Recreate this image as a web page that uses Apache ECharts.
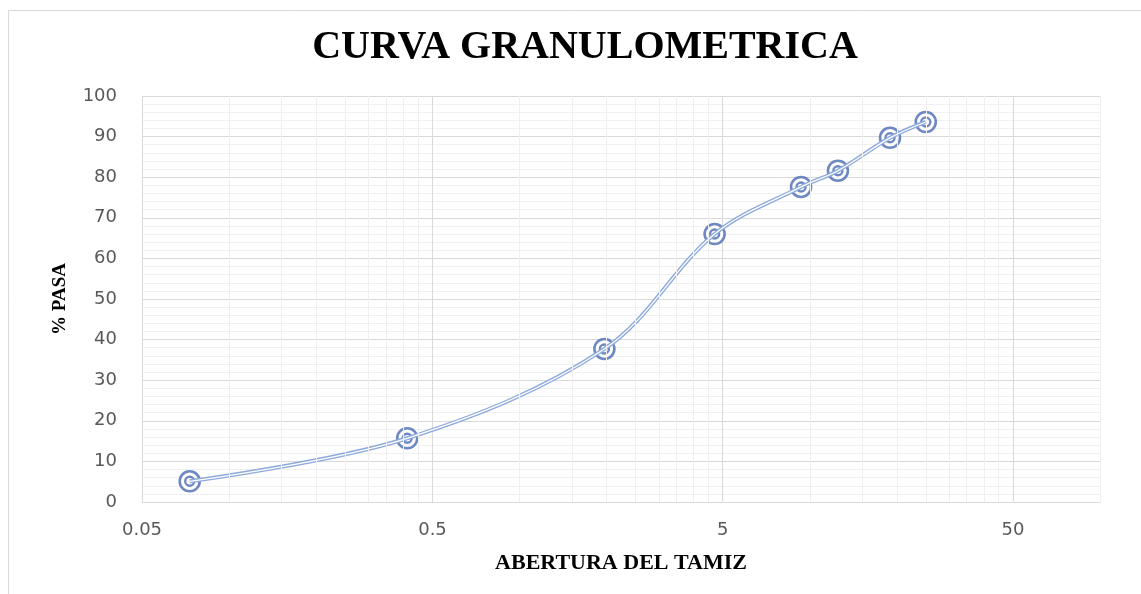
<!DOCTYPE html>
<html>
<head>
<meta charset="utf-8">
<title>Curva granulometrica</title>
<script src="https://cdn.jsdelivr.net/npm/echarts@6/dist/echarts.min.js"></script>
<style>
  html, body { margin: 0; padding: 0; background: #fff; }
  #chart { width: 1141px; height: 594px; }
</style>
</head>
<body>
<div id="chart"></div>
<script>
// abertura del tamiz (mm) y % que pasa
const aberturas = [0.073, 0.41, 1.96, 4.7, 9.33, 12.5, 18.9, 25.1];
const pasa = [5.1, 15.7, 37.7, 66.0, 77.6, 81.6, 89.7, 93.6];

// eje x logaritmico: limites y lineas menores (multiplos de 0.05 en cada decada)
const xMin = 0.05;
const xMax = 100;
const xMinor = [0.1, 0.15, 0.2, 0.25, 0.3, 0.35, 0.4, 0.45,
                1, 1.5, 2, 2.5, 3, 3.5, 4, 4.5,
                10, 15, 20, 25, 30, 35, 40, 45,
                100];

const log10 = v => Math.log(v) / Math.LN10;

// los puntos se pasan al eje en log10 para que el suavizado sea en pixeles
let puntos = aberturas.map((a, i) => [log10(a), pasa[i]]);

const lineBlue = '#8eaadb';
const markBlue = '#4a6cb3';

let chart = echarts.init(document.getElementById('chart'));

let option = {
  animation: false,
  backgroundColor: '#fff',
  graphic: [{
    type: 'rect',
    z: -10,
    shape: { x: 8.5, y: 10.5, width: 1300, height: 800 },
    style: { fill: 'none', stroke: '#d9d9d9', lineWidth: 1 }
  }],
  title: {
    text: 'CURVA GRANULOMETRICA',
    left: 580,
    top: 23,
    textAlign: 'center',
    textStyle: {
      fontFamily: 'Liberation Serif',
      fontWeight: 'bold',
      fontSize: 40,
      color: '#000'
    }
  },
  grid: {
    left: 142,
    right: 41,
    top: 96,
    bottom: 92
  },
  xAxis: {
    type: 'value',
    min: log10(xMin),
    max: log10(xMax),
    interval: 1,
    name: 'ABERTURA DEL TAMIZ',
    nameLocation: 'middle',
    nameGap: 50,
    nameTextStyle: {
      fontFamily: 'Liberation Serif',
      fontWeight: 'bold',
      fontSize: 22,
      color: '#000'
    },
    axisLine: { show: true, lineStyle: { color: '#d9d9d9' } },
    axisTick: { show: false },
    axisLabel: {
      margin: 19,
      fontFamily: 'DejaVu Sans',
      fontSize: 18,
      color: '#595959',
      formatter: function(v) {
        if (Math.abs(v - log10(xMax)) < 1e-6) return '';
        return String(+Math.pow(10, v).toPrecision(2));
      }
    },
    splitLine: { show: true, lineStyle: { color: '#d9d9d9' } }
  },
  yAxis: {
    type: 'value',
    min: 0,
    max: 100,
    interval: 10,
    name: '% PASA',
    nameLocation: 'middle',
    nameGap: 72,
    nameRotate: 90,
    nameTextStyle: {
      fontFamily: 'Liberation Serif',
      fontWeight: 'bold',
      fontSize: 19,
      color: '#000'
    },
    axisLine: { show: false },
    axisTick: { show: false },
    axisLabel: {
      margin: 25,
      fontFamily: 'DejaVu Sans',
      fontSize: 18,
      color: '#595959'
    },
    splitLine: { show: true, lineStyle: { color: '#d9d9d9' } },
    minorTick: { show: false, splitNumber: 5 },
    minorSplitLine: { show: true, lineStyle: { color: '#f0f0f0' } }
  },
  series: [
    {
      // lineas menores verticales del eje log
      type: 'line',
      data: [],
      z: -1,
      silent: true,
      markLine: {
        silent: true,
        symbol: ['none', 'none'],
        label: { show: false },
        lineStyle: { color: '#f0f0f0', width: 1, type: 'solid' },
        data: xMinor.map(v => ({ xAxis: log10(v) }))
      }
    },
    {
      // linea doble: trazo azul ancho...
      type: 'line',
      data: puntos,
      smooth: 0.35,
      showSymbol: false,
      lineStyle: { color: lineBlue, width: 4 }
    },
    {
      // ...con centro blanco
      type: 'line',
      data: puntos,
      smooth: 0.35,
      showSymbol: false,
      lineStyle: { color: '#fff', width: 1.3 }
    },
    {
      type: 'scatter',
      data: puntos,
      symbol: 'circle',
      symbolSize: 20,
      itemStyle: { color: '#fff', borderColor: markBlue, borderWidth: 2.6 }
    },
    {
      type: 'scatter',
      data: puntos,
      symbol: 'circle',
      symbolSize: 9,
      itemStyle: { color: '#fff', borderColor: markBlue, borderWidth: 2.4 }
    }
  ]
};

chart.setOption(option);
</script>
</body>
</html>
